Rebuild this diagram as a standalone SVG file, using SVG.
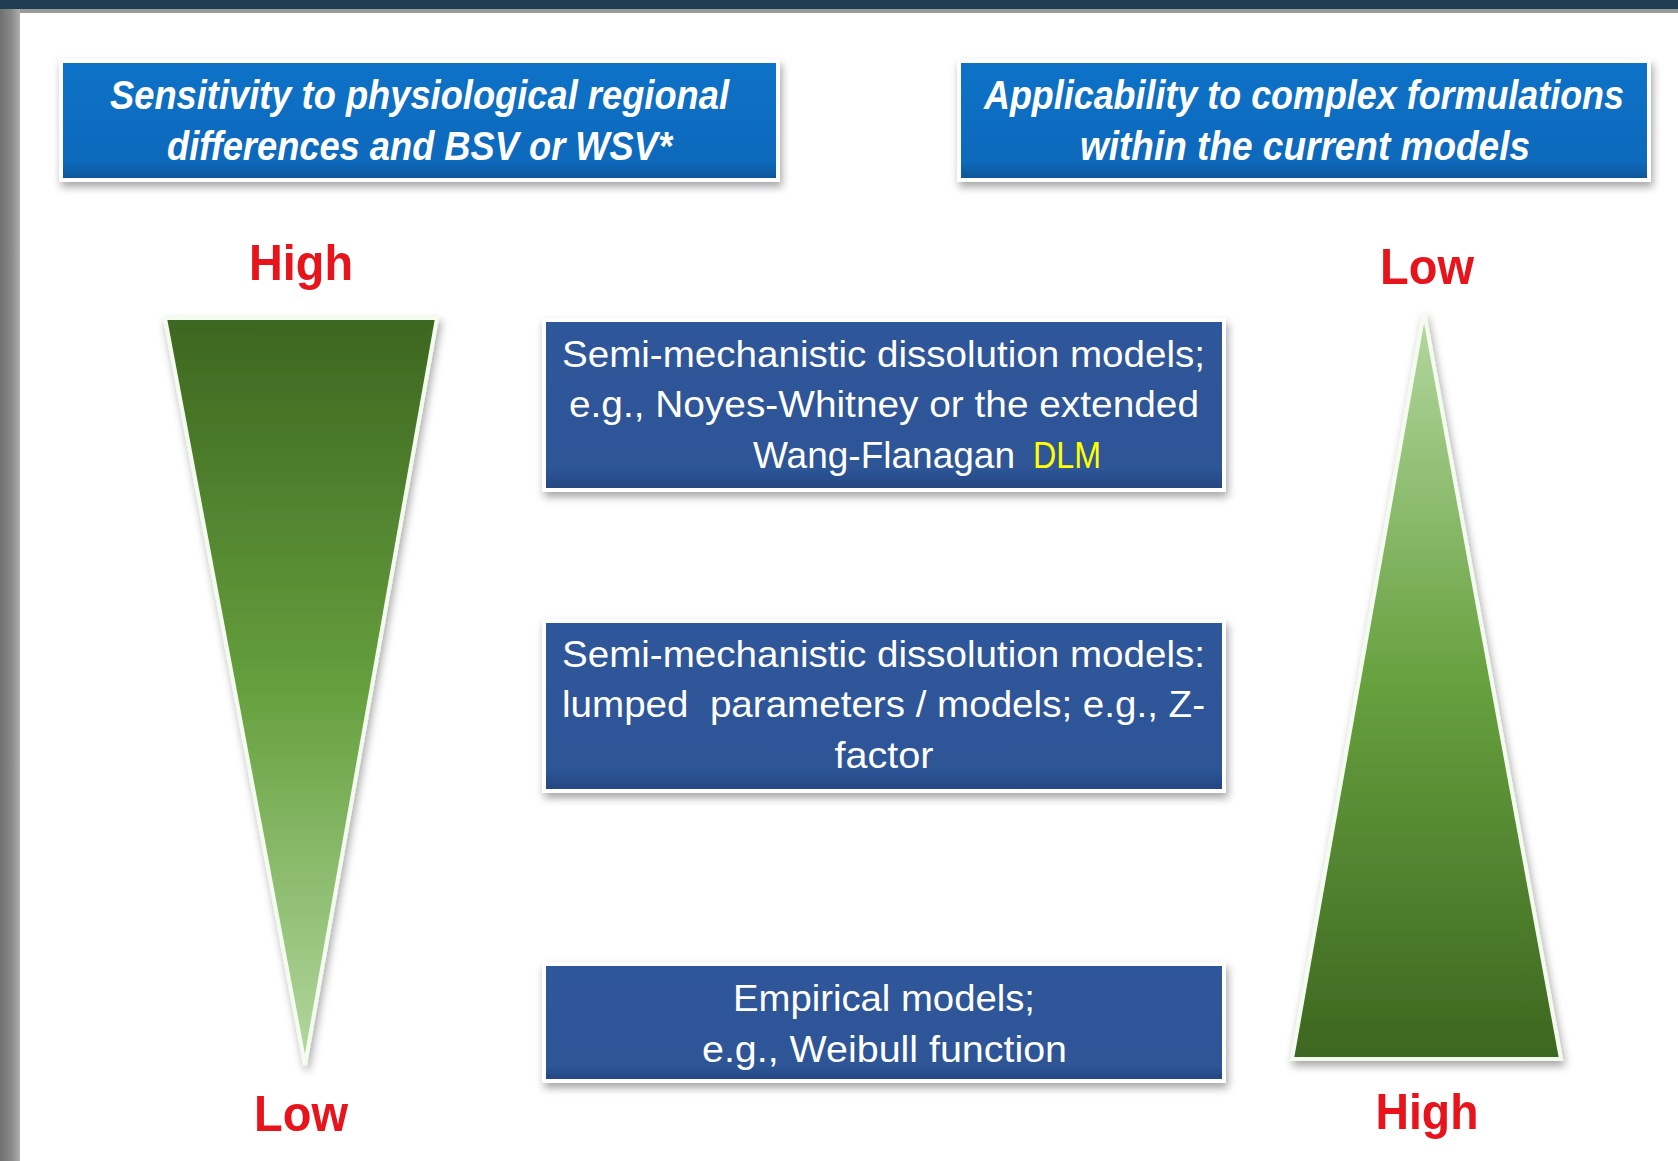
<svg xmlns="http://www.w3.org/2000/svg" width="1678" height="1161" viewBox="0 0 1678 1161">
<defs>
<style>
.hdr{font-family:"Liberation Sans",Arial,sans-serif;font-weight:bold;font-style:italic;font-size:41px;fill:#ffffff;text-anchor:middle}
.mid{font-family:"Liberation Sans",Arial,sans-serif;font-size:36px;fill:#ffffff;text-anchor:middle}
.lvl{font-family:"Liberation Sans",Arial,sans-serif;font-weight:bold;font-size:50px;fill:#e8141c;text-anchor:middle}
.topbox{fill:url(#gTop);stroke:#ffffff;stroke-width:4}
.midbox{fill:url(#gMid);stroke:#ffffff;stroke-width:4}
.tri{stroke:#f4fbef;stroke-width:4;stroke-linejoin:miter}
</style>
<linearGradient id="gTop" x1="0" y1="0" x2="0" y2="1">
<stop offset="0" stop-color="#1172c8"/>
<stop offset="0.85" stop-color="#0e69bb"/>
<stop offset="1" stop-color="#0b5496"/>
</linearGradient>
<linearGradient id="gMid" x1="0" y1="0" x2="0" y2="1">
<stop offset="0" stop-color="#2f579a"/>
<stop offset="0.88" stop-color="#2d5496"/>
<stop offset="1" stop-color="#24467f"/>
</linearGradient>
<linearGradient id="gDown" x1="0" y1="0" x2="0" y2="1">
<stop offset="0" stop-color="#3d6620"/>
<stop offset="0.5" stop-color="#66a03e"/>
<stop offset="1" stop-color="#b4d8a0"/>
</linearGradient>
<linearGradient id="gUp" x1="0" y1="0" x2="0" y2="1">
<stop offset="0" stop-color="#b4d8a0"/>
<stop offset="0.5" stop-color="#66a03e"/>
<stop offset="1" stop-color="#3d6620"/>
</linearGradient>
<linearGradient id="gLeft" x1="0" y1="0" x2="1" y2="0">
<stop offset="0" stop-color="#6f6f6f"/>
<stop offset="0.6" stop-color="#8c8c8c"/>
<stop offset="1" stop-color="#b0b0b0"/>
</linearGradient>
<filter id="sh" x="-10%" y="-10%" width="120%" height="130%">
<feDropShadow dx="2" dy="5" stdDeviation="4" flood-color="#000000" flood-opacity="0.35"/>
</filter>
</defs>
<rect x="0" y="0" width="1678" height="1161" fill="#ffffff"/>
<rect x="0" y="0" width="1678" height="9" fill="#1f3e53"/>
<rect x="0" y="9" width="1678" height="4" fill="#9a9a9a"/>
<rect x="0" y="9" width="20" height="1152" fill="url(#gLeft)"/>

<g id="header-left">
<rect class="topbox" x="61" y="61" width="717" height="119" filter="url(#sh)"/>
<text class="hdr" x="419.5" y="109" textLength="619" lengthAdjust="spacingAndGlyphs">Sensitivity to physiological regional</text>
<text class="hdr" x="419.5" y="160" textLength="505" lengthAdjust="spacingAndGlyphs">differences and BSV or WSV*</text>
</g>
<g id="header-right">
<rect class="topbox" x="959" y="61" width="690" height="119" filter="url(#sh)"/>
<text class="hdr" x="1304" y="109" textLength="640" lengthAdjust="spacingAndGlyphs">Applicability to complex formulations</text>
<text class="hdr" x="1305" y="160" textLength="450" lengthAdjust="spacingAndGlyphs">within the current models</text>
</g>

<g id="triangle-left">
<polygon class="tri" points="165,318 437,318 305,1065" fill="url(#gDown)" filter="url(#sh)"/>
<text class="lvl" x="301" y="280" textLength="104" lengthAdjust="spacingAndGlyphs">High</text>
<text class="lvl" x="301" y="1131" textLength="94" lengthAdjust="spacingAndGlyphs">Low</text>
</g>
<g id="triangle-right">
<polygon class="tri" points="1424,312 1561,1059 1292,1059" fill="url(#gUp)" filter="url(#sh)"/>
<text class="lvl" x="1427" y="284" textLength="94" lengthAdjust="spacingAndGlyphs">Low</text>
<text class="lvl" x="1427" y="1129" textLength="103" lengthAdjust="spacingAndGlyphs">High</text>
</g>

<g id="box-semi-mechanistic-dlm">
<rect class="midbox" x="544" y="320" width="680" height="170" filter="url(#sh)"/>
<text class="mid" x="883.5" y="367" textLength="643" lengthAdjust="spacingAndGlyphs">Semi-mechanistic dissolution models;</text>
<text class="mid" x="884" y="417" textLength="630" lengthAdjust="spacingAndGlyphs">e.g., Noyes-Whitney or the extended</text>
<text class="mid" x="753" y="468" style="text-anchor:start" textLength="262" lengthAdjust="spacingAndGlyphs">Wang-Flanagan</text>
<text class="mid" x="1033" y="468" style="text-anchor:start;fill:#ffff00" textLength="68" lengthAdjust="spacingAndGlyphs">DLM</text>
</g>
<g id="box-semi-mechanistic-lumped">
<rect class="midbox" x="544" y="621" width="680" height="170" filter="url(#sh)"/>
<text class="mid" x="883.5" y="667" textLength="643" lengthAdjust="spacingAndGlyphs">Semi-mechanistic dissolution models:</text>
<text class="mid" x="883.5" y="717" textLength="643" lengthAdjust="spacingAndGlyphs" xml:space="preserve">lumped  parameters / models; e.g., Z-</text>
<text class="mid" x="884" y="768" textLength="99" lengthAdjust="spacingAndGlyphs">factor</text>
</g>
<g id="box-empirical">
<rect class="midbox" x="544" y="964" width="680" height="117" filter="url(#sh)"/>
<text class="mid" x="884" y="1011" textLength="302" lengthAdjust="spacingAndGlyphs">Empirical models;</text>
<text class="mid" x="884.5" y="1062" textLength="365" lengthAdjust="spacingAndGlyphs">e.g., Weibull function</text>
</g>
<g id="connectors"/>
</svg>
